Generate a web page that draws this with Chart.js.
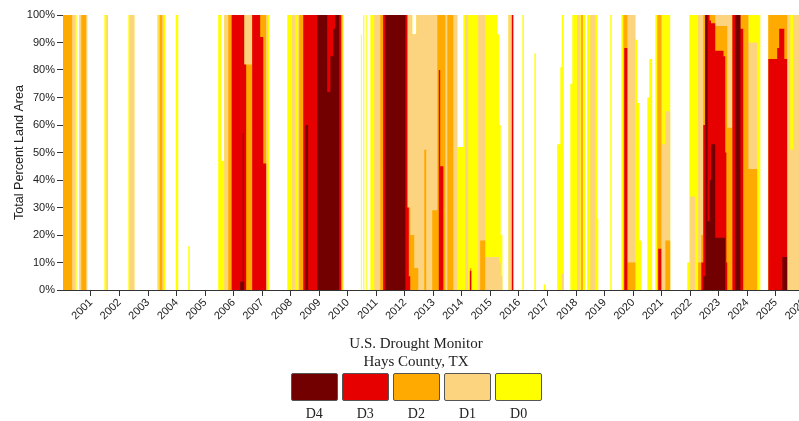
<!DOCTYPE html>
<html>
<head>
<meta charset="utf-8">
<script src="https://cdn.jsdelivr.net/npm/chart.js@4.4.1/dist/chart.umd.min.js"></script>
<style>
  html, body { margin: 0; padding: 0; background: #fff; overflow: hidden; }
  #wrap { position: relative; width: 830px; height: 421px; }
  #chartBox { position: absolute; left: 0; top: 0; width: 830px; height: 421px; }
  .legTitle { position: absolute; left: 266px; width: 300px; text-align: center;
    font-family: "Liberation Serif", "Times New Roman", serif; font-size: 15px; color: #222; }
  .legBox { position: absolute; top: 373px; width: 45px; height: 26px; border: 1px solid #555; border-radius: 2px; }
  .legLabel { position: absolute; top: 406px; width: 47px; text-align: center;
    font-family: "Liberation Serif", "Times New Roman", serif; font-size: 14px; color: #222; }
</style>
</head>
<body>
<div id="wrap">
  <div id="chartBox"><canvas id="droughtChart"></canvas></div>
  <div id="legend"></div>
</div>
<script>
// drought categories, worst first (drawn on top)
const categories = ['D4', 'D3', 'D2', 'D1', 'D0'];
const catColors = ['#730000', '#E60000', '#FFAA00', '#FCD37F', '#FFFF00'];
const yearTicks = [2001, 2002, 2003, 2004, 2005, 2006, 2007, 2008, 2009, 2010, 2011, 2012, 2013,
  2014, 2015, 2016, 2017, 2018, 2019, 2020, 2021, 2022, 2023, 2024, 2025, 2026];

// [decimal year, percent area] -- value holds until the next entry
const d0 = [
  [2000.01,100],[2000.50,0],[2000.59,100],[2000.87,0],[2001.47,100],[2001.59,0],
  [2002.31,100],[2002.52,0],[2003.32,100],[2003.60,0],[2003.97,100],[2004.06,0],
  [2004.41,16],[2004.46,0],[2005.46,100],[2005.57,47],[2005.67,100],[2007.25,0],
  [2007.88,100],[2009.86,0],[2010.46,93],[2010.49,0],[2010.54,100],[2010.58,0],
  [2010.65,100],[2010.68,0],[2010.79,100],[2012.26,93],[2012.40,100],[2013.84,52],
  [2014.05,100],[2015.24,93],[2015.31,60],[2015.36,20],[2015.42,0],[2015.63,100],
  [2015.80,0],[2016.12,100],[2016.17,0],[2016.54,86],[2016.59,0],[2016.87,2],
  [2016.92,0],[2017.34,53],[2017.45,81],[2017.50,100],[2017.57,0],[2017.80,75],
  [2017.87,100],[2018.32,0],[2018.39,100],[2018.75,26],[2018.78,0],[2019.20,100],
  [2019.25,0],[2019.59,100],[2020.08,91],[2020.15,68],[2020.22,18],[2020.29,0],
  [2020.50,70],[2020.57,84],[2020.67,0],[2020.78,100],[2021.30,0],[2021.90,10],
  [2021.97,100],[2024.46,0],[2024.74,100],[2025.95,100]
];
const d1 = [
  [2000.01,100],[2000.45,0],[2000.59,100],[2000.87,0],[2001.54,100],[2001.59,0],
  [2002.36,100],[2002.52,0],[2003.36,100],[2003.55,0],[2005.67,100],[2007.20,0],
  [2008.05,100],[2008.16,0],[2008.26,100],[2009.81,0],[2010.93,100],[2012.26,93],
  [2012.40,100],[2013.84,0],[2014.12,100],[2014.22,0],[2014.28,8],[2014.33,0],
  [2014.57,100],[2014.82,12],[2015.31,10],[2015.36,5],[2015.42,0],[2015.63,100],
  [2015.80,0],[2017.50,6],[2017.57,0],[2018.04,100],[2018.15,0],[2018.18,100],
  [2018.24,0],[2018.50,100],[2018.68,0],[2019.66,100],[2020.08,0],[2020.85,100],
  [2021.02,53],[2021.13,65],[2021.30,0],[2022.00,34],[2022.18,0],[2022.28,100],
  [2024.04,90],[2024.35,0],[2024.74,100],[2025.51,51],[2025.62,100],[2025.95,100]
];
const d2 = [
  [2000.01,100],[2000.34,0],[2000.66,100],[2000.83,0],[2003.41,100],[2003.50,0],
  [2005.81,100],[2006.37,82],[2006.65,100],[2007.14,0],[2008.30,100],[2009.81,0],
  [2011.14,100],[2012.09,30],[2012.19,20],[2012.33,8],[2012.47,0],[2012.68,51],
  [2012.75,0],[2012.96,29],[2013.14,100],[2013.42,0],[2013.49,100],[2013.70,0],
  [2014.28,8],[2014.33,0],[2014.64,18],[2014.82,0],[2015.75,100],[2015.80,0],
  [2018.18,100],[2018.24,0],[2019.66,100],[2019.80,10],[2020.08,0],[2020.85,100],
  [2020.99,0],[2021.13,18],[2021.30,0],[2022.28,10],[2022.39,20],[2022.46,100],
  [2022.88,96],[2023.30,59],[2023.48,100],[2024.04,44],[2024.35,0],[2024.74,100],
  [2025.40,0],[2025.95,0]
];
const d3 = [
  [2000.01,0],[2005.93,100],[2006.37,82],[2006.44,0],[2006.65,100],[2006.93,92],
  [2007.04,46],[2007.14,0],[2008.44,100],[2009.77,0],[2011.24,100],[2012.09,30],
  [2012.14,5],[2012.19,0],[2013.19,80],[2013.24,45],[2013.35,0],[2014.28,7],
  [2014.33,0],[2015.75,100],[2015.80,0],[2019.69,88],[2019.80,0],[2020.88,15],
  [2020.99,0],[2022.39,10],[2022.46,60],[2022.53,100],[2022.68,98],[2022.73,97],
  [2022.88,87],[2023.17,85],[2023.23,50],[2023.27,10],[2023.30,0],[2023.48,100],
  [2023.76,95],[2023.86,0],[2024.74,84],[2025.05,88],[2025.12,95],[2025.30,84],
  [2025.40,0],[2025.95,0]
];
const d4 = [
  [2000.01,0],[2006.23,3],[2006.32,57],[2006.35,3],[2006.37,0],[2008.51,60],
  [2008.61,0],[2008.93,100],[2009.28,72],[2009.39,85],[2009.49,95],[2009.56,100],
  [2009.70,0],[2011.31,100],[2012.02,0],[2022.46,5],[2022.53,100],[2022.61,25],
  [2022.68,40],[2022.73,53],[2022.88,19],[2023.23,0],[2023.58,100],[2023.76,0],
  [2025.23,12],[2025.40,0],[2025.95,0]
];

document.addEventListener('DOMContentLoaded', function() {
  const seriesData = [d4, d3, d2, d1, d0];

  const datasets = categories.map(function(cat, i) {
    return {
      label: cat,
      data: seriesData[i].map(p => ({ x: p[0], y: p[1] })),
      stepped: true,
      fill: 'origin',
      backgroundColor: catColors[i],
      borderColor: 'rgba(0,0,0,0)',
      borderWidth: 0,
      pointRadius: 0,
      pointHoverRadius: 0
    };
  });

  const axisFont = { family: '"Liberation Sans", Arial, sans-serif', size: 11 };

  const ctx = document.getElementById('droughtChart').getContext('2d');
  new Chart(ctx, {
    type: 'line',
    data: { datasets: datasets },
    options: {
      responsive: true,
      maintainAspectRatio: false,
      animation: false,
      events: [],
      layout: { padding: { top: 15, left: 0, right: 18, bottom: 86 } },
      plugins: { legend: { display: false }, tooltip: { enabled: false } },
      scales: {
        x: {
          type: 'linear',
          min: 2000.02,
          max: 2026.27,
          afterBuildTicks: function(scale) {
            scale.ticks = yearTicks.map(v => ({ value: v }));
          },
          afterFit: function(scale) { scale.height = 45; },
          ticks: {
            callback: v => String(v),
            minRotation: 45,
            maxRotation: 45,
            autoSkip: false,
            font: axisFont,
            color: '#222',
            padding: 0
          },
          grid: { drawOnChartArea: false, drawTicks: true, tickLength: 6, color: '#333' },
          border: { color: '#333' }
        },
        y: {
          min: 0,
          max: 100,
          afterFit: function(scale) { scale.width = 63; },
          ticks: {
            stepSize: 10,
            callback: v => v + '%',
            font: axisFont,
            color: '#222',
            padding: 2
          },
          grid: { drawOnChartArea: false, drawTicks: true, tickLength: 6, color: '#333' },
          border: { color: '#333' },
          title: {
            display: true,
            text: 'Total Percent Land Area',
            font: { family: '"Liberation Sans", Arial, sans-serif', size: 12.6 },
            color: '#222',
            padding: { top: 12, bottom: 0 }
          }
        }
      }
    }
  });

  // legend under the chart
  const legend = document.getElementById('legend');
  const t1 = document.createElement('div');
  t1.className = 'legTitle';
  t1.style.top = '335px';
  t1.textContent = 'U.S. Drought Monitor';
  legend.appendChild(t1);
  const t2 = document.createElement('div');
  t2.className = 'legTitle';
  t2.style.top = '353px';
  t2.textContent = 'Hays County, TX';
  legend.appendChild(t2);

  categories.forEach(function(cat, i) {
    const left = 290.7 + i * 51.1;
    const box = document.createElement('div');
    box.className = 'legBox';
    box.style.left = left + 'px';
    box.style.background = catColors[i];
    legend.appendChild(box);
    const lab = document.createElement('div');
    lab.className = 'legLabel';
    lab.style.left = left + 'px';
    lab.textContent = cat;
    legend.appendChild(lab);
  });
});
</script>
</body>
</html>
